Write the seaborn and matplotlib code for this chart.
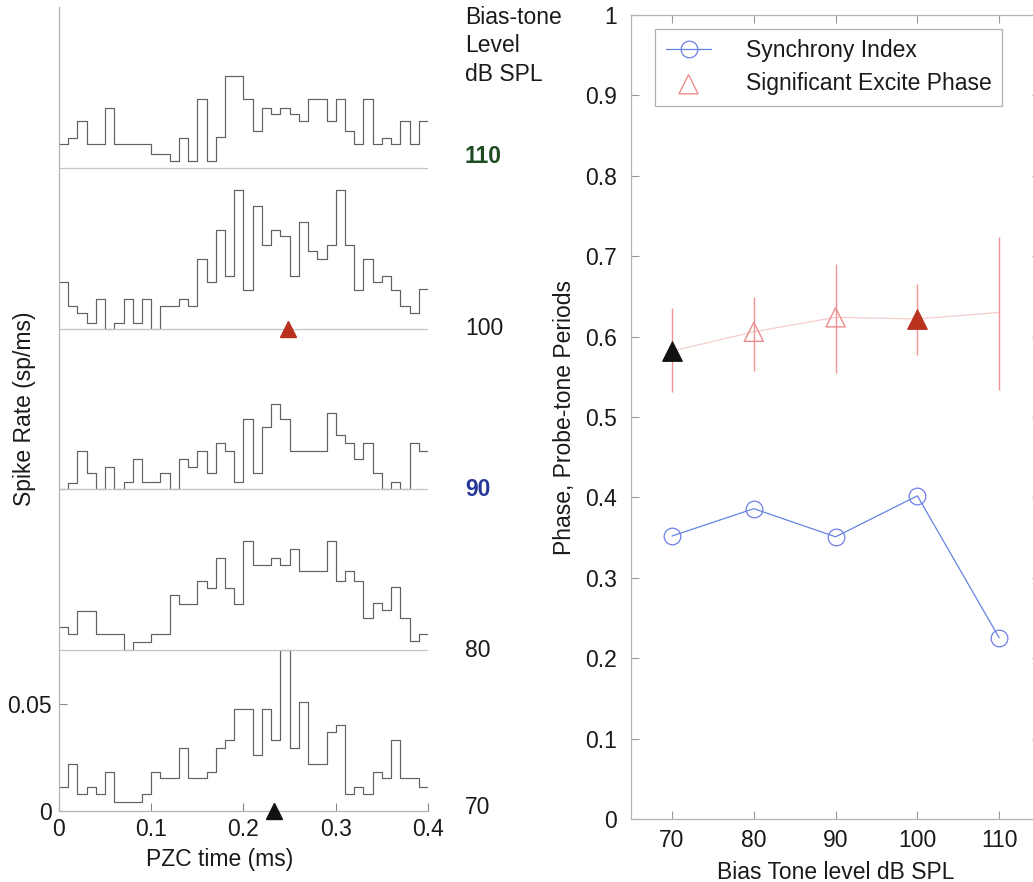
import numpy as np
import pandas as pd
import matplotlib
matplotlib.use("Agg")
import matplotlib.pyplot as plt
import seaborn as sns

# PZC histograms: 40 bins of 0.01 ms, spike rate in sp/ms
bin_edges = np.round(np.arange(41) * 0.01, 2)

rate_70 = [0.0113, 0.0218, 0.0077, 0.0113, 0.0077, 0.0183, 0.0042, 0.0042, 0.0042, 0.0077,
           0.0183, 0.0155, 0.0155, 0.0293, 0.0155, 0.0155, 0.0183, 0.0293, 0.0328, 0.0473,
           0.0473, 0.0259, 0.0473, 0.0328, 0.0752, 0.0293, 0.0508, 0.0218, 0.0218, 0.0368,
           0.0400, 0.0077, 0.0113, 0.0077, 0.0183, 0.0155, 0.0328, 0.0155, 0.0155, 0.0113]
rate_80 = [0.0106, 0.0075, 0.0183, 0.0183, 0.0075, 0.0075, 0.0075, 0.0, 0.0039, 0.0039,
           0.0075, 0.0075, 0.0255, 0.0215, 0.0215, 0.0324, 0.0290, 0.0431, 0.0290, 0.0215,
           0.0509, 0.0399, 0.0399, 0.0431, 0.0399, 0.0473, 0.0368, 0.0368, 0.0368, 0.0509,
           0.0324, 0.0368, 0.0324, 0.0149, 0.0219, 0.0188, 0.0293, 0.0149, 0.0042, 0.0075]
rate_90 = [0.0, 0.0031, 0.0180, 0.0075, 0.0, 0.0106, 0.0, 0.0033, 0.0141, 0.0033,
           0.0033, 0.0075, 0.0, 0.0141, 0.0106, 0.0180, 0.0075, 0.0216, 0.0180, 0.0033,
           0.0326, 0.0075, 0.0290, 0.0396, 0.0326, 0.0180, 0.0180, 0.0180, 0.0180, 0.0357,
           0.0255, 0.0216, 0.0141, 0.0216, 0.0075, 0.0, 0.0033, 0.0, 0.0216, 0.0180]
rate_100 = [0.0216, 0.0106, 0.0075, 0.0028, 0.0138, 0.0, 0.0028, 0.0138, 0.0028, 0.0138,
            0.0, 0.0106, 0.0106, 0.0138, 0.0106, 0.0323, 0.0216, 0.0462, 0.0244, 0.0647,
            0.0182, 0.0572, 0.0388, 0.0462, 0.0431, 0.0244, 0.0498, 0.0360, 0.0323, 0.0388,
            0.0647, 0.0388, 0.0182, 0.0323, 0.0216, 0.0244, 0.0182, 0.0106, 0.0075, 0.0185]
rate_110 = [0.0110, 0.0141, 0.0219, 0.0110, 0.0110, 0.0282, 0.0110, 0.0110, 0.0110, 0.0110,
            0.0066, 0.0066, 0.0031, 0.0141, 0.0031, 0.0324, 0.0031, 0.0144, 0.0431, 0.0431,
            0.0324, 0.0172, 0.0282, 0.0251, 0.0282, 0.0251, 0.0219, 0.0324, 0.0324, 0.0219,
            0.0324, 0.0172, 0.0110, 0.0324, 0.0110, 0.0141, 0.0110, 0.0219, 0.0110, 0.0219]

levels = [70, 80, 90, 100, 110]
strip_step = 0.075

# excite phase markers on the histograms (time in ms)
mark_levels = [70, 100]
mark_times = [0.2327, 0.248]
mark_colors = ["#111111", "#b8321e"]

# right panel
sync_index = [0.352, 0.386, 0.351, 0.402, 0.2255]
phase = [0.582, 0.606, 0.624, 0.622, 0.630]
phase_lo = [0.531, 0.557, 0.555, 0.577, 0.534]
phase_hi = [0.6355, 0.649, 0.690, 0.6655, 0.724]
phase_style = ["black", "open", "open", "filled", "none"]

sns.set_theme(style="ticks")
plt.rcParams["font.family"] = ["Liberation Sans", "DejaVu Sans"]
FS = 16.5
TXT = "#1a1a1a"
SPINE = "#b4b4b4"

fig = plt.figure(figsize=(10.33, 8.82), dpi=100)
ax1 = fig.add_axes([0.0571, 0.0808, 0.3572, 0.911])
ax2 = fig.add_axes([0.611, 0.0714, 0.3958, 0.9116])

# ---- left panel: stacked PZC histograms ----
rates = [rate_70, rate_80, rate_90, rate_100, rate_110]
rows = []
for i, (lev, r) in enumerate(zip(levels, rates)):
    vals = list(r) + [r[-1]]
    for t, v in zip(bin_edges, vals):
        rows.append({"time": t, "rate": v + i * strip_step, "level": lev})
hist_df = pd.DataFrame(rows)

sns.lineplot(data=hist_df, x="time", y="rate", units="level", estimator=None,
             color="#606060", lw=0.85, drawstyle="steps-post", sort=False,
             ax=ax1, legend=False)

ax1.hlines([i * strip_step for i in range(1, 5)], 0, 0.4, color="#c4c4c4", lw=0.9)

for lev, t, c in zip(mark_levels, mark_times, mark_colors):
    y0 = levels.index(lev) * strip_step
    ax1.plot([t], [y0], marker="^", ms=12, color=c, mec=c, clip_on=False, zorder=5)

label_y = [0.0013, 0.075, 0.15, 0.2252, 0.3054]
label_colors = [TXT, TXT, "#26389a", TXT, "#1f4a22"]
label_weights = ["normal", "normal", "bold", "normal", "bold"]
for lev, y, c, w in zip(levels, label_y, label_colors, label_weights):
    ax1.text(0.44, y, str(lev), color=c, fontweight=w, fontsize=FS,
             va="center", ha="left", clip_on=False)
fig.text(465 / 1033, 1 - 6 / 882, "Bias-tone\nLevel\ndB SPL", fontsize=FS,
         color=TXT, va="top", ha="left", linespacing=1.3)

ax1.set_xlim(0, 0.4)
ax1.set_ylim(0, 5 * strip_step)
ax1.set_xticks([0, 0.1, 0.2, 0.3, 0.4])
ax1.set_xticklabels(["0", "0.1", "0.2", "0.3", "0.4"])
ax1.set_yticks([0, 0.05])
ax1.set_yticklabels(["0", "0.05"])
ax1.tick_params(direction="in", length=6, width=0.8, color="#888888",
                labelsize=FS, labelcolor=TXT, pad=5)
for s in ["top", "right"]:
    ax1.spines[s].set_visible(False)
for s in ["left", "bottom"]:
    ax1.spines[s].set_color(SPINE)
    ax1.spines[s].set_linewidth(0.9)
ax1.set_xlabel("PZC time (ms)", fontsize=FS, color=TXT)
ax1.set_ylabel("Spike Rate (sp/ms)", fontsize=FS, color=TXT)
ax1.xaxis.set_label_coords(0.436, -0.047)
ax1.yaxis.set_label_coords(-0.062, 0.5)

# ---- right panel: synchrony index and excite phase ----
sync_df = pd.DataFrame({"level": levels, "sync": sync_index})
phase_df = pd.DataFrame({"level": levels, "phase": phase, "lo": phase_lo,
                         "hi": phase_hi, "style": phase_style})

sns.lineplot(data=sync_df, x="level", y="sync", color="#6584e2", lw=0.9,
             marker="o", ms=12, mfc="none", mec="#6f7fe8", mew=0.9,
             label="Synchrony Index", ax=ax2)

sns.lineplot(data=phase_df, x="level", y="phase", color="#f6cccc", lw=0.9,
             ax=ax2, legend=False)
ax2.errorbar(phase_df["level"], phase_df["phase"],
             yerr=[phase_df["phase"] - phase_df["lo"], phase_df["hi"] - phase_df["phase"]],
             fmt="none", ecolor="#f29494", elinewidth=1.0, capsize=0)

open_df = phase_df[phase_df["style"] == "open"]
sns.scatterplot(data=open_df, x="level", y="phase", marker="^", s=190,
                facecolors="none", edgecolor="#ec8c8c", linewidth=1.0,
                label="Significant Excite Phase", ax=ax2, zorder=4)
for style, fc in [("black", "#111111"), ("filled", "#b8321e")]:
    sub = phase_df[phase_df["style"] == style]
    sns.scatterplot(data=sub, x="level", y="phase", marker="^", s=200,
                    color=fc, edgecolor=fc, linewidth=0.8, ax=ax2,
                    legend=False, zorder=5)

ax2.set_xlim(65, 115)
ax2.set_ylim(0, 1)
ax2.set_xticks(levels)
ax2.set_yticks(np.round(np.arange(0, 1.01, 0.1), 1))
ax2.set_yticklabels(["0", "0.1", "0.2", "0.3", "0.4", "0.5", "0.6", "0.7", "0.8", "0.9", "1"])
ax2.tick_params(direction="in", length=6, width=0.8, color="#999999",
                top=True, right=True, labelsize=FS, labelcolor=TXT, pad=10)
ax2.tick_params(axis="x", pad=7)
for s in ax2.spines.values():
    s.set_color(SPINE)
    s.set_linewidth(0.9)
ax2.set_xlabel("Bias Tone level dB SPL", fontsize=FS, color=TXT)
ax2.set_ylabel("Phase, Probe-tone Periods", fontsize=FS, color=TXT)
ax2.xaxis.set_label_coords(0.5, -0.052)
ax2.yaxis.set_label_coords(-0.135, 0.5)

leg = ax2.legend(loc="upper left", bbox_to_anchor=(0.059, 0.983), fontsize=FS,
                 frameon=True, fancybox=False, edgecolor="#9a9a9a",
                 handlelength=2.0, handletextpad=1.5, labelspacing=0.45,
                 borderpad=0.45, borderaxespad=0)
leg.get_frame().set_linewidth(0.9)
for t in leg.get_texts():
    t.set_color(TXT)

fig.savefig("out.png", dpi=100)
